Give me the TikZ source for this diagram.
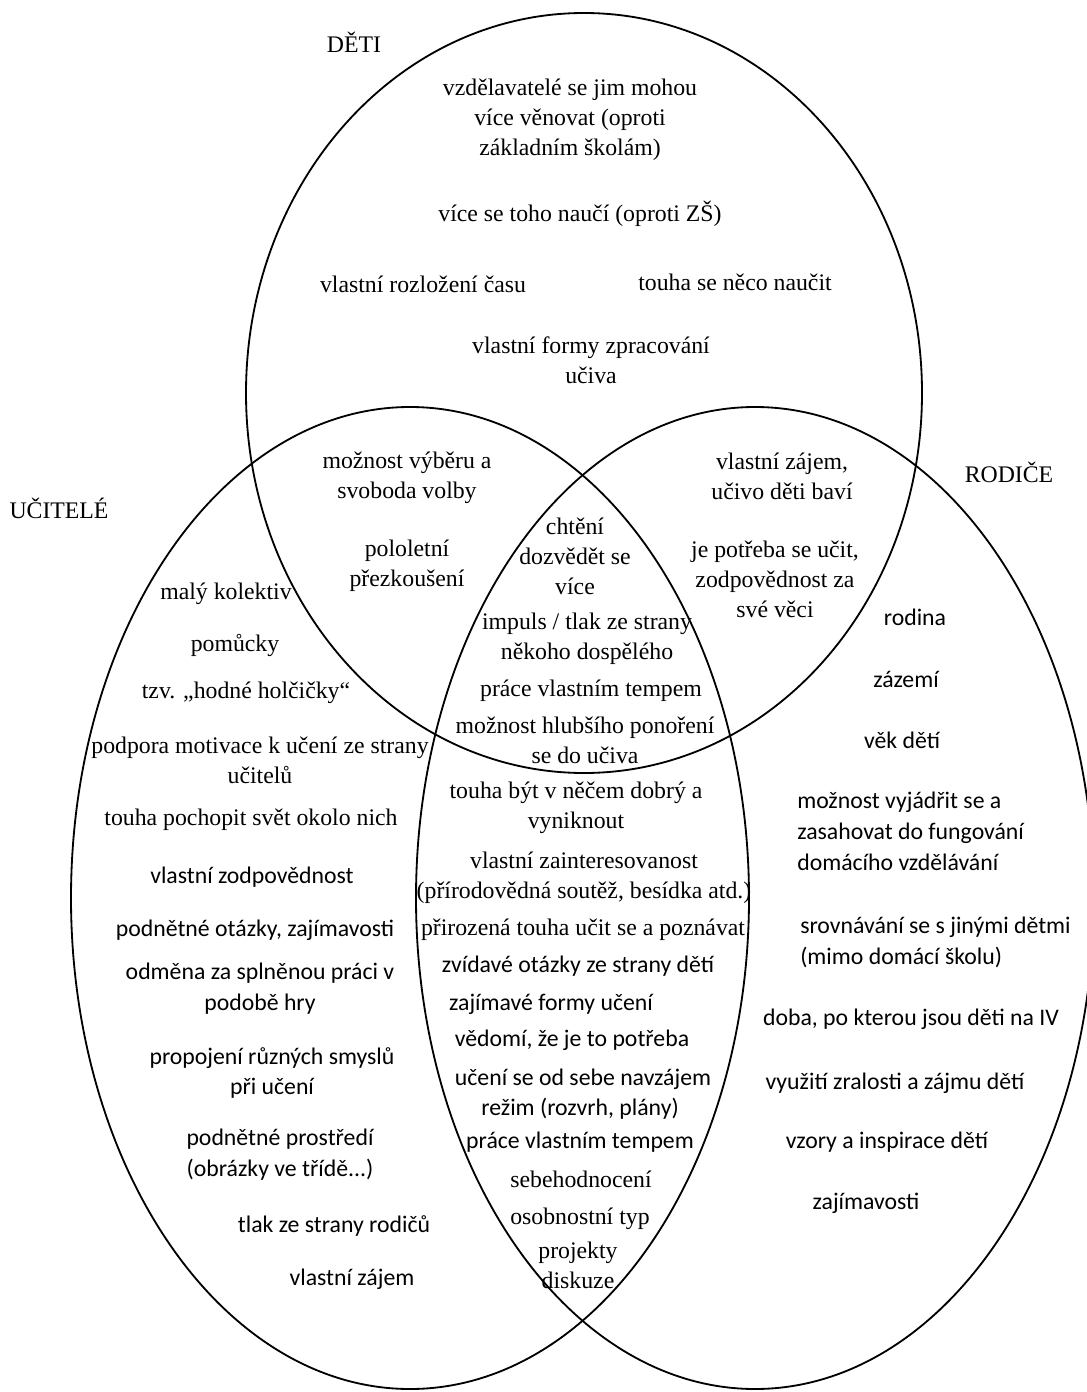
\documentclass[tikz,border=0pt]{standalone}
\usepackage{fontspec}
\setmainfont{Liberation Serif}
\newfontfamily\calibri{Carlito}
\usetikzlibrary{positioning}
\tikzstyle{venn} = [line width=1.3pt, draw=black]
\tikzstyle{ser} = [inner sep=0pt, align=center, font=\fontsize{16.9}{21.3}\selectfont]
\tikzstyle{san} = [inner sep=0pt, align=center, font=\calibri\fontsize{16.9}{22}\selectfont]
\tikzstyle{sanl} = [san, align=left, anchor=west]

\begin{document}
\begin{tikzpicture}[x=0.025cm, y=-0.025cm]
\useasboundingbox (0,0) rectangle (1086,1392);

% the three sets
\coordinate (cdeti) at (584,393);
\coordinate (cucitele) at (410,898);
\coordinate (crodice) at (755,898);
\draw[venn] (cdeti) ellipse [x radius=338, y radius=380];
\draw[venn] (cucitele) ellipse [x radius=339, y radius=491];
\draw[venn] (crodice) ellipse [x radius=339, y radius=491];

% set names
\node[ser] (deti) at (354,42) {DĚTI};
\node[ser] (ucitele) at (59,508) {UČITELÉ};
\node[ser] (rodice) at (1009,472) {RODIČE};

% children only
\node[ser] (d1) at (570,120) {vzdělavatelé se jim mohou\\více věnovat (oproti\\základním školám)};
\node[ser] (d2) at (580,214) {více se toho naučí (oproti ZŠ)};
\node[ser] (d3) at (423,284) {vlastní rozložení času};
\node[ser] (d4) at (735,282) {touha se něco naučit};
\node[ser] (d5) at (591,360) {vlastní formy zpracování\\učiva};

% children and teachers
\node[ser] (du1) at (407,478) {možnost výběru a\\svoboda volby};
\node[ser] (du2) at (407,566) {pololetní\\přezkoušení};

% children and parents
\node[ser] (dr1) at (782,476) {vlastní zájem,\\učivo děti baví};
\node[ser] (dr2) at (775,579) {je potřeba se učit,\\zodpovědnost za\\své věci};

% all three
\node[ser] (a1) at (575,556) {chtění\\dozvědět se\\více};
\node[ser] (a2) at (587,639) {impuls / tlak ze strany\\někoho dospělého};
\node[ser] (a3) at (591,691) {práce vlastním tempem};
\node[ser] (a4) at (585,740) {možnost hlubšího ponoření\\se do učiva};

% teachers only
\node[ser] (u1) at (226,594) {malý kolektiv};
\node[ser] (u2) at (235,645) {pomůcky};
\node[ser] (u3) at (246,693) {tzv. „hodné holčičky“};
\node[ser] (u4) at (260,760) {podpora motivace k učení ze strany\\učitelů};
\node[ser] (u5) at (251,820) {touha pochopit svět okolo nich};
\node[san] (u6) at (252,877) {vlastní zodpovědnost};
\node[san] (u7) at (255,930) {podnětné otázky, zajímavosti};
\node[san] (u8) at (260,989) {odměna za splněnou práci v\\podobě hry};
\node[san] (u9) at (272,1073) {propojení různých smyslů\\při učení};
\node[san] (u10) at (280,1155) {podnětné prostředí\\(obrázky ve třídě...)};
\node[san] (u11) at (334,1226) {tlak ze strany rodičů};
\node[san] (u12) at (352,1279) {vlastní zájem};

% teachers and parents
\node[ser] (ur1) at (576,808) {touha být v něčem dobrý a\\vyniknout};
\node[ser] (ur2) at (584,878) {vlastní zainteresovanost\\(přírodovědná soutěž, besídka atd.)};
\node[ser] (ur3) at (583,930) {přirozená touha učit se a poznávat};
\node[san] (ur4) at (578,966) {zvídavé otázky ze strany dětí};
\node[san] (ur5) at (551,1004) {zajímavé formy učení};
\node[san] (ur6) at (572,1040) {vědomí, že je to potřeba};
\node[san] (ur7) at (583,1079) {učení se od sebe navzájem};
\node[san] (ur8) at (580,1109) {režim (rozvrh, plány)};
\node[san] (ur9) at (580,1142) {práce vlastním tempem};
\node[ser] (ur10) at (581,1179) {sebehodnocení};
\node[ser] (ur11) at (580,1219) {osobnostní typ};
\node[ser] (ur12) at (578,1265) {projekty\\diskuze};

% parents only
\node[san] (r1) at (915,617) {rodina};
\node[san] (r2) at (906,679) {zázemí};
\node[san] (r3) at (902,740) {věk dětí};
\node[sanl] (r4) at (797,831) {možnost vyjádřit se a\\zasahovat do fungování\\domácího vzdělávání};
\node[sanl] (r5) at (800,942) {srovnávání se s jinými dětmi\\(mimo domácí školu)};
\node[san] (r6) at (911,1019) {doba, po kterou jsou děti na IV};
\node[san] (r7) at (895,1083) {využití zralosti a zájmu dětí};
\node[san] (r8) at (887,1142) {vzory a inspirace dětí};
\node[san] (r9) at (866,1203) {zajímavosti};

\end{tikzpicture}
\end{document}
